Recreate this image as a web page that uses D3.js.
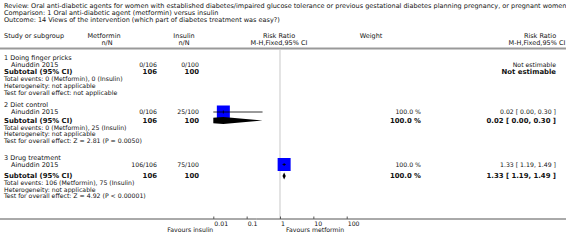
<!DOCTYPE html>
<html>
<head>
<meta charset="utf-8">
<script src="https://cdn.jsdelivr.net/npm/d3@7"></script>
<style>
  body { margin: 0; background: #fff; }
  svg { display: block; font-family: "DejaVu Sans", sans-serif; }
</style>
</head>
<body>
<div id="chart"></div>
<script>
// Title lines
const titleLines = [
    "Review:  Oral anti-diabetic agents for women with established diabetes/impaired glucose tolerance or previous gestational diabetes planning pregnancy, or pregnant women",
    "Comparison:  1 Oral anti-diabetic agent (metformin) versus insulin",
    "Outcome:  14 Views of the intervention (which part of diabetes treatment was easy?)"
];

// Subgroups, one entry per section
const groupNames = ["1 Doing finger pricks", "2 Diet control", "3 Drug treatment"];
const studyNames = ["Ainuddin 2015", "Ainuddin 2015", "Ainuddin 2015"];
const metforminEvents = [0, 0, 106];
const metforminTotals = [106, 106, 106];
const insulinEvents = [0, 25, 75];
const insulinTotals = [100, 100, 100];
const weights = [null, 100.0, 100.0];
// risk ratio [point, lower, upper]; null = not estimable (lower 0.00 drawn below axis)
const riskRatios = [null, [0.02, 0.001, 0.30], [1.33, 1.19, 1.49]];
const effectTexts = ["Test for overall effect: not applicable",
    "Test for overall effect: Z = 2.81 (P = 0.0050)",
    "Test for overall effect: Z = 4.92 (P < 0.00001)"];

const axisTicks = [0.01, 0.1, 1, 10, 100];
const favoursLeft = "Favours insulin";
const favoursRight = "Favours metformin";

const width = 566, height = 249;

// row positions (y centre of each line) per section
const rowY = [
    {group: 58, study: 65, sub: 72, total: 79, het: 86, test: 92.5},
    {group: 105, study: 112, sub: 120.5, total: 127.5, het: 134, test: 140.5},
    {group: 158, study: 164.5, sub: 176, total: 183, het: 189.5, test: 196}
];

const col = {
    study: 4, indent: 11,
    metf: 157, insu: 199,
    metfHead: 104, insuHead: 184,
    plotHead: 279, weightHead: 371, weight: 421,
    rrHead: 537, rr: 556
};

const fs = {head: 6.5, small: 6.2, bold: 6.9};

const svg = d3.select("#chart").append("svg")
    .attr("width", width)
    .attr("height", height);

const ink = "#111";

function txt(x, y, s, size, opts = {}) {
    return svg.append("text")
        .attr("x", x)
        .attr("y", y)
        .attr("dy", "0.35em")
        .attr("font-size", size)
        .attr("font-weight", opts.bold ? "bold" : "normal")
        .attr("text-anchor", opts.anchor || "start")
        .attr("fill", ink)
        .text(s);
}

// titles
titleLines.forEach((t, i) => txt(4, 6 + i * 7, t, fs.head));

// header
txt(col.study, 36, "Study or subgroup", fs.head);
txt(col.metfHead, 36, "Metformin", fs.head, {anchor: "middle"});
txt(col.metfHead + 3, 43, "n/N", fs.head, {anchor: "middle"});
txt(col.insuHead, 36, "Insulin", fs.head, {anchor: "middle"});
txt(col.insuHead, 43, "n/N", fs.head, {anchor: "middle"});
txt(col.plotHead, 36, "Risk Ratio", fs.head, {anchor: "middle"});
txt(col.plotHead, 43, "M-H,Fixed,95% CI", fs.head, {anchor: "middle"});
txt(col.weightHead, 36, "Weight", fs.head, {anchor: "middle"});
txt(col.rrHead + 3, 36, "Risk Ratio", fs.head, {anchor: "middle"});
txt(col.rrHead, 43, "M-H,Fixed,95% CI", fs.head, {anchor: "middle"});

svg.append("line")
    .attr("x1", 0).attr("x2", width)
    .attr("y1", 48.5).attr("y2", 48.5)
    .attr("stroke", "#999")
    .attr("stroke-width", 2);

// log scale for the plot
const x = d3.scaleLog().domain([0.01, 100]).range([213.3, 346.7]);
const axisY = 219;

// null line
svg.append("line")
    .attr("x1", x(1)).attr("x2", x(1))
    .attr("y1", 50).attr("y2", axisY)
    .attr("stroke", "#ddd")
    .attr("stroke-width", 1.6);

svg.append("clipPath").attr("id", "plotClip")
    .append("rect")
    .attr("x", x(0.01)).attr("y", 0)
    .attr("width", x(100) - x(0.01)).attr("height", height);

const plot = svg.append("g").attr("clip-path", "url(#plotClip)");

groupNames.forEach((g, i) => {
    const r = rowY[i];
    txt(col.study, r.group, g, fs.head);
    txt(col.indent, r.study, studyNames[i], fs.head);
    txt(col.metf, r.study, metforminEvents[i] + "/" + metforminTotals[i], fs.small, {anchor: "end"});
    txt(col.insu, r.study, insulinEvents[i] + "/" + insulinTotals[i], fs.small, {anchor: "end"});

    txt(col.study, r.sub, "Subtotal (95% CI)", fs.bold, {bold: true});
    txt(col.metf, r.sub, metforminTotals[i], fs.bold, {bold: true, anchor: "end"});
    txt(col.insu, r.sub, insulinTotals[i], fs.bold, {bold: true, anchor: "end"});
    txt(col.study, r.total, `Total events: ${metforminEvents[i]} (Metformin), ${insulinEvents[i]} (Insulin)`, fs.small);
    txt(col.study, r.het, "Heterogeneity: not applicable", fs.small);
    txt(col.study, r.test, effectTexts[i], fs.small);

    const rr = riskRatios[i];
    if (rr === null) {
        txt(col.rr, r.study, "Not estimable", fs.small, {anchor: "end"});
        txt(col.rr, r.sub, "Not estimable", fs.bold, {bold: true, anchor: "end"});
        return;
    }
    const f = d3.format(".2f");
    const ciText = `${f(rr[0])} [ ${f(rr[1])}, ${f(rr[2])} ]`;
    txt(col.weight, r.study, d3.format(".1f")(weights[i]) + " %", fs.small, {anchor: "end"});
    txt(col.weight, r.sub, d3.format(".1f")(weights[i]) + " %", fs.bold, {bold: true, anchor: "end"});
    txt(col.rr, r.study, ciText, fs.small, {anchor: "end"});
    txt(col.rr, r.sub, ciText, fs.bold, {bold: true, anchor: "end"});

    // study square + CI line
    const sq = 13;
    plot.append("rect")
        .attr("x", x(rr[0]) - sq / 2)
        .attr("y", r.study - sq / 2)
        .attr("width", sq).attr("height", sq)
        .attr("fill", "#0000ff");
    plot.append("line")
        .attr("x1", x(rr[1])).attr("x2", x(rr[2]))
        .attr("y1", r.study).attr("y2", r.study)
        .attr("stroke", "#000").attr("stroke-width", 0.8);
    plot.append("line")
        .attr("x1", x(rr[0])).attr("x2", x(rr[0]))
        .attr("y1", r.study - 1.5).attr("y2", r.study + 1.5)
        .attr("stroke", "#000").attr("stroke-width", 0.8);

    // subtotal diamond
    const h = 3.5;
    plot.append("path")
        .attr("d", `M${x(rr[1])},${r.sub}L${x(rr[0])},${r.sub - h}L${x(rr[2])},${r.sub}L${x(rr[0])},${r.sub + h}Z`)
        .attr("fill", "#000");
});

// axis
svg.append("line")
    .attr("x1", 0).attr("x2", width)
    .attr("y1", axisY).attr("y2", axisY)
    .attr("stroke", "#555")
    .attr("stroke-width", 1);

const axis = d3.axisBottom(x)
    .tickValues(axisTicks)
    .tickFormat(d => String(d))
    .tickSizeInner(-2.5)
    .tickSizeOuter(0);

const axisG = svg.append("g")
    .attr("transform", `translate(0,${axisY})`)
    .call(axis);
axisG.select(".domain").remove();
axisG.selectAll(".tick line").attr("stroke", "#555");
axisG.selectAll(".tick text")
    .attr("y", 4.5)
    .attr("dy", "0.35em")
    .attr("x", 0.5)
    .attr("text-anchor", "start")
    .attr("font-size", fs.small)
    .attr("font-family", "DejaVu Sans")
    .attr("fill", ink);

txt(x(0.01), 230, favoursLeft, fs.small, {anchor: "end"});
txt(x(1) + 6, 230, favoursRight, fs.small);
</script>
</body>
</html>
